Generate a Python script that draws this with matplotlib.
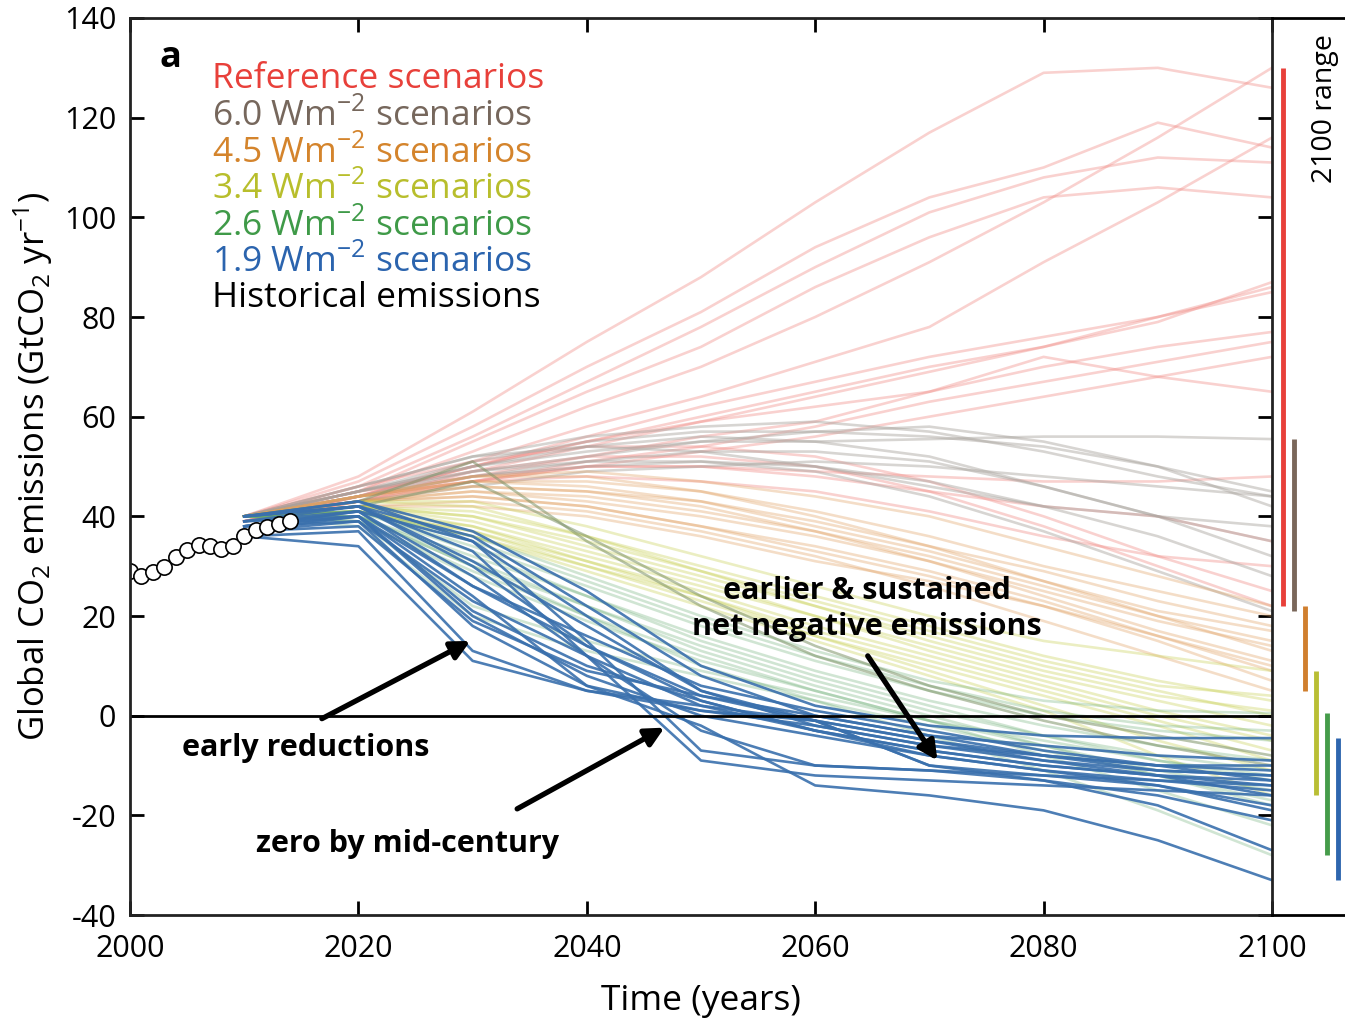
import matplotlib
matplotlib.use("Agg")
import matplotlib.pyplot as plt

plt.rcParams['font.family'] = ['Open Sans', 'DejaVu Sans']
plt.rcParams['mathtext.fontset'] = 'custom'
plt.rcParams['mathtext.rm'] = 'Open Sans'
plt.rcParams['axes.unicode_minus'] = False

# Данные
years = [2010, 2020, 2030, 2040, 2050, 2060, 2070, 2080, 2090, 2100]

hist_years = list(range(2000, 2015))
hist_vals = [29.0, 28.1, 28.8, 29.9, 31.8, 33.3, 34.3, 34.1, 33.5, 34.0,
             36.1, 37.2, 37.8, 38.5, 39.1]

ref = [
    [40, 48, 61, 75, 88, 103, 117, 129, 130, 126],
    [40, 47, 58, 70, 81, 94, 104, 110, 119, 114],
    [40, 46, 56, 67, 78, 90, 101, 108, 112, 111],
    [40, 45, 55, 65, 74, 86, 96, 104, 106, 104],
    [40, 45, 53, 62, 70, 80, 91, 103, 116, 130],
    [39, 44, 51, 58, 64, 71, 78, 91, 103, 116],
    [39, 44, 50, 56, 62, 67, 72, 76, 80, 86],
    [39, 44, 50, 55, 60, 65, 70, 74, 80, 85],
    [39, 43, 49, 54, 59, 64, 69, 74, 79, 87],
    [39, 44, 50, 55, 59, 62, 65, 70, 74, 77],
    [39, 43, 48, 52, 56, 59, 65, 72, 68, 65],
    [39, 43, 47, 51, 54, 58, 63, 67, 71, 75],
    [39, 43, 47, 50, 53, 56, 60, 64, 68, 72],
    [40, 44, 47, 50, 50, 49, 48, 47, 47, 48],
    [40, 45, 48, 50, 50, 48, 45, 42, 40, 35],
    [40, 44, 47, 48, 47, 45, 41, 36, 32, 30],
    [40, 46, 51, 54, 54, 52, 47, 40, 32, 25],
    [40, 45, 49, 52, 52, 50, 45, 38, 30, 22],
]

w60 = [
    [40, 45, 50, 53, 55, 55, 55.5, 56, 56, 55.5],
    [40, 46, 52, 56, 58, 59, 57, 53, 48, 44],
    [40, 45, 51, 55, 57, 57, 56, 54, 50, 45],
    [40, 44, 49, 52, 55, 57, 58, 55, 50, 42],
    [40, 45, 50, 54, 56, 55, 52, 46, 40, 35],
    [40, 44, 48, 51, 53, 53, 51, 46, 40, 32],
    [40, 44, 48, 50, 51, 50, 47, 42, 36, 28],
    [40, 45, 49, 51, 51, 49, 44, 37, 29, 21],
    [40, 43, 46, 49, 50, 51, 50, 48, 46, 44],
    [40, 46, 52, 54, 53, 50, 46, 42, 40, 38],
]

w45 = [
    [40, 44, 48, 49, 47, 44, 40, 34, 28, 22],
    [40, 44, 47, 47, 45, 41, 36, 30, 25, 20],
    [40, 43, 46, 45, 43, 39, 34, 29, 23, 18],
    [40, 43, 45, 44, 41, 37, 32, 26, 20, 15],
    [40, 44, 46, 45, 42, 37, 31, 24, 17, 11],
    [40, 43, 44, 42, 38, 34, 29, 23, 16, 9],
    [40, 42, 43, 41, 37, 32, 26, 19, 12, 5],
    [40, 44, 47, 46, 43, 38, 33, 27, 20, 13],
    [40, 43, 45, 43, 40, 36, 31, 25, 19, 14],
    [40, 42, 42, 40, 36, 31, 27, 22, 16, 10],
    [40, 44, 48, 48, 45, 40, 34, 27, 21, 17],
    [40, 43, 44, 42, 38, 33, 28, 22, 15, 7],
]

w34 = [
    [40, 43, 43, 38, 32, 26, 20, 15, 12, 9],
    [40, 42, 41, 36, 30, 24, 18, 12, 7, 3],
    [40, 42, 40, 34, 28, 22, 16, 10, 5, 0],
    [40, 41, 38, 32, 26, 20, 14, 8, 3, -2],
    [40, 42, 39, 33, 27, 20, 13, 7, 1, -4],
    [40, 41, 37, 30, 24, 17, 11, 5, -1, -7],
    [40, 42, 38, 31, 24, 16, 9, 2, -5, -11],
    [40, 41, 36, 29, 22, 15, 8, 1, -8, -16],
    [40, 43, 42, 36, 29, 22, 15, 9, 4, 1],
    [40, 41, 37, 31, 25, 18, 12, 6, 0, -5],
    [40, 42, 40, 35, 29, 23, 17, 11, 6, 4],
    [40, 41, 36, 30, 23, 16, 10, 4, -2, -9],
]

w26 = [
    [40, 41, 36, 28, 20, 13, 7, 3, 1, 0.5],
    [40, 41, 34, 26, 18, 11, 5, 0, -3, -5],
    [40, 40, 32, 24, 16, 9, 3, -2, -6, -9],
    [40, 41, 33, 24, 15, 8, 2, -4, -9, -13],
    [40, 40, 31, 22, 13, 6, 0, -6, -12, -17],
    [40, 39, 29, 20, 12, 5, -1, -8, -15, -22],
    [40, 40, 30, 20, 10, 3, -4, -11, -19, -28],
    [40, 41, 35, 27, 19, 12, 6, 1, -2, -3],
    [40, 40, 30, 22, 14, 7, 1, -4, -8, -11],
    [40, 39, 28, 19, 11, 5, -1, -6, -11, -15],
    [40, 39, 22, 15, 9, 4, -1, -5, -9, -12],
    [40, 38, 20, 13, 8, 3, -2, -7, -12, -18],
]
w26_dark = [
    [40, 43, 51, 35, 22, 12, 5, -1, -6, -10],
    [40, 42, 47, 36, 24, 14, 6, 0, -4, -8],
]

w19 = [
    [40, 43, 37, 25, 10, 2, -2, -4, -4.5, -4.5],
    [40, 42, 36, 22, 8, 0, -4, -6, -8, -9],
    [39, 41, 35, 20, 5, -2, -6, -8, -10, -11],
    [38, 40, 26, 14, 4, -1, -5, -8, -10, -13],
    [38, 39, 23, 12, 2, -3, -7, -10, -12, -14],
    [37, 40, 20, 8, 0, -4, -8, -11, -13, -15],
    [37, 39, 18, 6, 1, -2, -6, -9, -12, -16],
    [36, 37, 13, 5, 1, -1, -10, -12, -14, -18],
    [36, 34, 11, 5, 2, -1, -10, -13, -16, -21],
    [39, 42, 30, 14, 3, -3, -7, -10, -12, -13],
    [40, 43, 35, 15, -7, -10, -11, -12, -13, -14],
    [40, 42, 33, 12, -9, -12, -13, -14, -15, -16],
    [38, 40, 24, 6, -2, -14, -16, -19, -25, -33],
    [38, 41, 28, 12, -3, -10, -11, -13, -18, -27],
    [39, 40, 21, 10, 3, -3, -8, -11, -14, -19],
    [37, 38, 19, 9, 4, 0, -4, -8, -11, -12],
    [38, 41, 26, 16, 6, 1, -3, -7, -10, -10],
    [40, 42, 31, 18, 5, -1, -5, -9, -11, -12],
]

groups = [ref, w60, w45, w34, w26, w19]
line_colors = ['#f08e88', '#a8a29c', '#e0a060', '#c8cf50', '#66aa70', '#3a70ad']
line_alpha = [0.4, 0.45, 0.35, 0.35, 0.3, 0.9]
bar_colors = ['#e8403a', '#7a675a', '#d07f2e', '#b9be34', '#459c4a', '#2e66ae']
label_colors = ['#e8403a', '#76675c', '#d4842c', '#b8be2c', '#3f9a48', '#2b64ae', 'k']
labels = ['Reference scenarios',
          r'6.0 Wm$^{\mathregular{-2}}$ scenarios',
          r'4.5 Wm$^{\mathregular{-2}}$ scenarios',
          r'3.4 Wm$^{\mathregular{-2}}$ scenarios',
          r'2.6 Wm$^{\mathregular{-2}}$ scenarios',
          r'1.9 Wm$^{\mathregular{-2}}$ scenarios',
          'Historical emissions']

fig = plt.figure(figsize=(13.45, 10.28), dpi=100)
ax = fig.add_axes([0.0967, 0.1099, 0.849, 0.8726])
axr = fig.add_axes([0.9457, 0.1099, 0.0543, 0.8726], sharey=ax)
axr.patch.set_visible(False)

for g, c, a in zip(groups, line_colors, line_alpha):
    for s in g:
        ax.plot(years, s, color=c, alpha=a, lw=1.9, zorder=2 if a < 0.5 else 4)
for s in w26_dark:
    ax.plot(years, s, color='#7f9468', alpha=0.55, lw=1.9, zorder=3)

ax.axhline(0, color='k', lw=2, zorder=5)
ax.plot(hist_years, hist_vals, 'k-', lw=2, zorder=6)
ax.plot(hist_years, hist_vals, 'o', ms=11, mfc='white', mec='k', mew=1.2, zorder=7)

ax.set_xlim(2000, 2100)
ax.set_ylim(-40, 140)
ax.set_xticks(range(2000, 2101, 20))
ax.set_yticks(range(-40, 141, 20))
ax.tick_params(direction='in', length=10, width=2, labelsize=22, top=True, right=True)
ax.tick_params(axis='x', pad=14)
ax.tick_params(axis='y', pad=10)
for sp in ax.spines.values():
    sp.set_linewidth(2)
    sp.set_color('#222222')
    sp.set_zorder(10)
ax.set_xlabel('Time (years)', fontsize=25.5, labelpad=14)
ax.set_ylabel(r'Global CO$_{\mathregular{2}}$ emissions (GtCO$_{\mathregular{2}}$ yr$^{\mathregular{-1}}$)',
              fontsize=25, labelpad=6)

ax.text(0.035, 0.955, 'a', transform=ax.transAxes, fontsize=26, fontweight='bold',
        ha='center', va='center')
for i, (lab, col) in enumerate(zip(labels, label_colors)):
    ax.text(0.0718, 0.932 - i * 0.0407, lab, transform=ax.transAxes, color=col,
            fontsize=25.5, ha='left', va='center')

arrow = dict(arrowstyle='-|>', lw=3.8, color='k', mutation_scale=28, shrinkA=0, shrinkB=0)
ax.annotate('', xy=(2029.8, 15), xytext=(2016.8, -0.6), arrowprops=arrow, zorder=8)
ax.annotate('', xy=(2046.8, -2.4), xytext=(2033.9, -18.7), arrowprops=arrow, zorder=8)
ax.annotate('', xy=(2070.7, -9), xytext=(2064.6, 12), arrowprops=arrow, zorder=8)
ax.text(2015.4, -6.4, 'early reductions', fontsize=22, fontweight='bold', ha='center', va='center')
ax.text(2024.3, -25.8, 'zero by mid-century', fontsize=22, fontweight='bold', ha='center', va='center')
ax.text(2064.5, 21.4, 'earlier & sustained\nnet negative emissions', fontsize=22,
        fontweight='bold', ha='center', va='center', linespacing=1.3)

# 2100 range
for i, (g, c) in enumerate(zip(groups, bar_colors)):
    end = [s[-1] for s in g]
    axr.vlines(0.15 + i * 0.152, min(end), max(end), color=c, lw=3.5)
axr.set_xlim(0, 1)
axr.spines['left'].set_visible(False)
axr.spines['right'].set_visible(False)
axr.spines['top'].set_linewidth(2)
axr.spines['bottom'].set_linewidth(2)
axr.tick_params(left=False, labelleft=False, bottom=False, labelbottom=False)
axr.text(0.72, 0.982, '2100 range', transform=axr.transAxes, rotation=90,
         fontsize=20.5, ha='center', va='top')

plt.savefig('out.png', dpi=100)
